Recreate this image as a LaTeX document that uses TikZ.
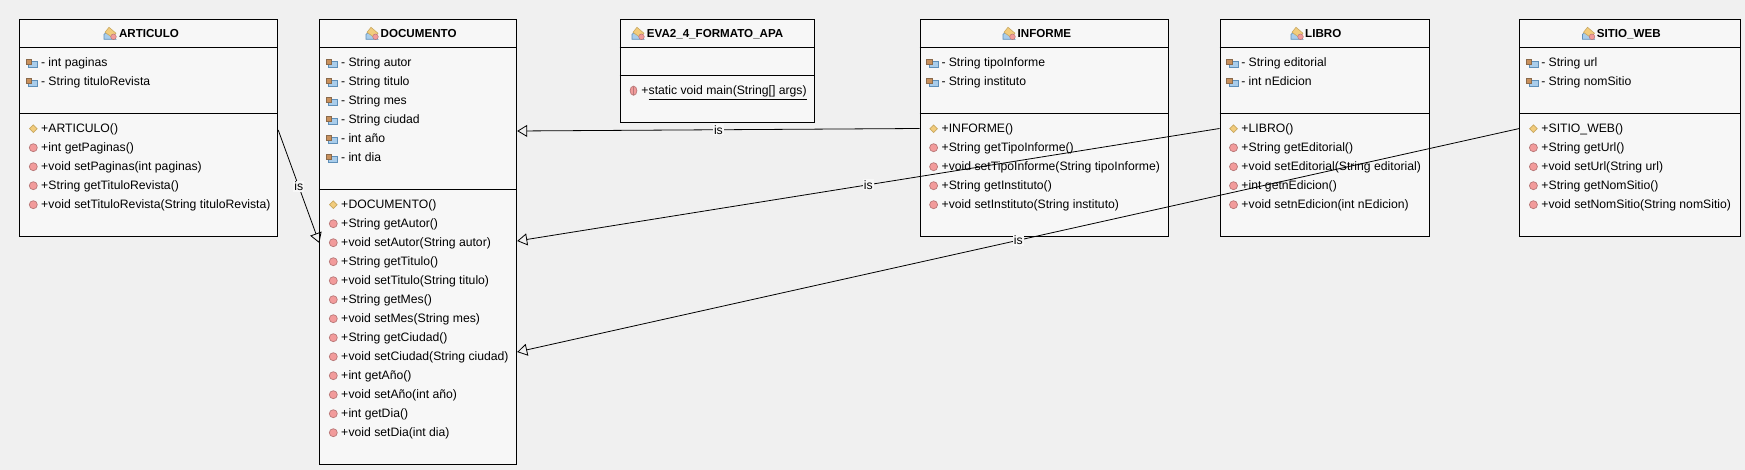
\documentclass[tikz,border=0pt]{standalone}
\usepackage{fontspec}
\setmainfont{Liberation Sans}
\usetikzlibrary{arrows.meta}
\definecolor{pagebg}{HTML}{F0F0F0}
\definecolor{boxbg}{HTML}{F7F7F7}
\definecolor{lockc}{HTML}{C8905C}
\definecolor{lockd}{HTML}{8A6A4C}
\definecolor{shackle}{HTML}{8C8C8C}
\definecolor{bluef}{HTML}{A9CDEB}
\definecolor{blued}{HTML}{5F8FB8}
\definecolor{orangef}{HTML}{F2CC7C}
\definecolor{oranged}{HTML}{C8A860}
\definecolor{redf}{HTML}{F29B9B}
\definecolor{redd}{HTML}{B87878}
\newcounter{memberno}
\tikzset{
  x=1pt,y=-1pt,
  classbox/.style={draw=black,line width=1pt,fill=boxbg,anchor=north west,inner sep=0pt},
  divider/.style={draw=black,line width=1pt},
  classtitle/.style={anchor=base west,inner sep=0pt,font=\fontsize{11.6}{13}\selectfont\bfseries},
  membertext/.style={anchor=base west,inner sep=0pt,font=\fontsize{12.2}{13}\selectfont},
  isa/.style={draw=black,line width=0.8pt,-{Triangle[open,length=10pt,width=12pt,line width=0.8pt]}},
  islabel/.style={fill=boxbg,inner xsep=1pt,inner ysep=1pt,text=black,font=\fontsize{12.2}{13}\selectfont},
  pics/fieldicon/.style={code={
    \draw[fill=bluef,draw=blued,line width=0.7pt] (-3,-1) rectangle (6,5);
    \draw[draw=shackle,line width=1.2pt] (-5,-3.2) arc[start angle=180,end angle=0,radius=2.2];
    \fill[lockc,draw=lockd,line width=0.5pt] (-5.8,-3.2) rectangle (-0.2,2);
  }},
  pics/ctoricon/.style={code={
    \draw[fill=orangef,draw=oranged,line width=0.7pt] (-3.8,0) -- (0,-3.8) -- (3.8,0) -- (0,3.8) -- cycle;
  }},
  pics/methodicon/.style={code={
    \draw[fill=redf,draw=redd,line width=0.7pt] (0,0) circle[radius=4];
  }},
  pics/staticicon/.style={code={
    \draw[fill=redf,draw=redd,line width=0.7pt] (0,0) ellipse[x radius=3.4,y radius=4.6];
    \draw[draw=redd,line width=0.6pt] (0,-4) -- (0,4);
  }},
  pics/classicon/.style={code={
    \draw[fill=bluef,draw=blued,line width=0.6pt] (-6,6) -- (-6,1) -- (-2,-2) -- (6,6) -- cycle;
    \draw[fill=orangef,draw=oranged,line width=0.6pt] (-5,-1) -- (-1,-6) -- (6,0) -- (2,4) -- cycle;
    \draw[fill=redf,draw=redd,line width=0.5pt] (3.5,3.5) circle[radius=2.8];
  }},
}
% #1 name, #2 left, #3 top, #4 right, #5 bottom, #6 header rule, #7 compartment rule
\newcommand{\umlclass}[7]{%
  \node[classbox,minimum width=#4pt-#2pt,minimum height=#5pt-#3pt] (#1) at (#2,#3) {};
  \draw[divider] (#2,#6) -- (#4,#6);
  \draw[divider] (#2,#7) -- (#4,#7);
}
% #1 icon x, #2 text x, #3 text
\newcommand{\umltitle}[4]{%
  \pic at (#1,33.3) {classicon};
  \stepcounter{memberno}%
  \node[classtitle] (m\arabic{memberno}) at (#2,37.6) {#3};
}
\newcommand{\startrows}[2]{\def\bx{#1}\def\ry{#2}}
% #1 icon style, #2 icon offset, #3 sign, #4 text
\newcommand{\umlrow}[4]{%
  \pic at (\bx+#2,\ry) {#1};
  \stepcounter{memberno}%
  \node[membertext] (m\arabic{memberno}) at (\bx+21.7,\ry+4.2) {\makebox[7.3pt][l]{#3}#4};
  \pgfmathsetmacro{\ry}{\ry+19}
}
\newcommand{\attr}[1]{\umlrow{fieldicon}{12.5}{-}{#1}}
\newcommand{\ctor}[1]{\umlrow{ctoricon}{14}{+}{#1}}
\newcommand{\meth}[1]{\umlrow{methodicon}{14}{+}{#1}}
\begin{document}
\begin{tikzpicture}
\useasboundingbox (0,0) rectangle (1745,470);
\fill[pagebg] (0,0) rectangle (1745,470);

% ARTICULO
\umlclass{art}{19.3}{19.3}{277.2}{236}{47.3}{113.3}
\umltitle{110}{118.8}{ARTICULO}{}
\startrows{19.3}{62.7}
\attr{int paginas}
\attr{String tituloRevista}
\startrows{19.3}{128.7}
\ctor{ARTICULO()}
\meth{int getPaginas()}
\meth{void setPaginas(int paginas)}
\meth{String getTituloRevista()}
\meth{void setTituloRevista(String tituloRevista)}

% DOCUMENTO
\umlclass{doc}{319.3}{19.3}{516.2}{464.3}{47.3}{189.3}
\umltitle{372}{380.5}{DOCUMENTO}{}
\startrows{319.3}{62.7}
\attr{String autor}
\attr{String titulo}
\attr{String mes}
\attr{String ciudad}
\attr{int año}
\attr{int dia}
\startrows{319.3}{204.7}
\ctor{DOCUMENTO()}
\meth{String getAutor()}
\meth{void setAutor(String autor)}
\meth{String getTitulo()}
\meth{void setTitulo(String titulo)}
\meth{String getMes()}
\meth{void setMes(String mes)}
\meth{String getCiudad()}
\meth{void setCiudad(String ciudad)}
\meth{int getAño()}
\meth{void setAño(int año)}
\meth{int getDia()}
\meth{void setDia(int dia)}

% EVA2_4_FORMATO_APA
\umlclass{eva}{619.5}{19.3}{813.5}{122.3}{47.3}{75.3}
\umltitle{638}{646.7}{EVA2\_4\_FORMATO\_APA}{}
\startrows{619.5}{90.7}
\umlrow{staticicon}{14}{+}{\underline{static void main(String[] args)}}

% INFORME
\umlclass{inf}{919.6}{19.3}{1167.5}{236}{47.3}{113.3}
\umltitle{1009}{1017.5}{INFORME}{}
\startrows{919.6}{62.7}
\attr{String tipoInforme}
\attr{String instituto}
\startrows{919.6}{128.7}
\ctor{INFORME()}
\meth{String getTipoInforme()}
\meth{void setTipoInforme(String tipoInforme)}
\meth{String getInstituto()}
\meth{void setInstituto(String instituto)}

% LIBRO
\umlclass{lib}{1219.5}{19.3}{1428.7}{236}{47.3}{113.3}
\umltitle{1297}{1305}{LIBRO}{}
\startrows{1219.5}{62.7}
\attr{String editorial}
\attr{int nEdicion}
\startrows{1219.5}{128.7}
\ctor{LIBRO()}
\meth{String getEditorial()}
\meth{void setEditorial(String editorial)}
\meth{int getnEdicion()}
\meth{void setnEdicion(int nEdicion)}

% SITIO_WEB
\umlclass{sit}{1519.4}{19.3}{1739.8}{236}{47.3}{113.3}
\umltitle{1588.5}{1596.6}{SITIO\_WEB}{}
\startrows{1519.4}{62.7}
\attr{String url}
\attr{String nomSitio}
\startrows{1519.4}{128.7}
\ctor{SITIO\_WEB()}
\meth{String getUrl()}
\meth{void setUrl(String url)}
\meth{String getNomSitio()}
\meth{void setNomSitio(String nomSitio)}

% generalisations
\draw[isa] ([yshift=-110.7pt]art.north east) -- node[islabel,pos=0.5] {is} ([yshift=-223.7pt]doc.north west);
\draw[isa] ([yshift=-109.2pt]inf.north west) -- node[islabel,pos=0.5] {is} ([yshift=-111.7pt]doc.north east);
\draw[isa] ([yshift=-109.2pt]lib.north west) -- node[islabel,pos=0.5] {is} ([yshift=-221.7pt]doc.north east);
\draw[isa] ([yshift=-109.2pt]sit.north west) -- node[islabel,pos=0.5] {is} ([yshift=-332.7pt]doc.north east);
\end{tikzpicture}
\end{document}
